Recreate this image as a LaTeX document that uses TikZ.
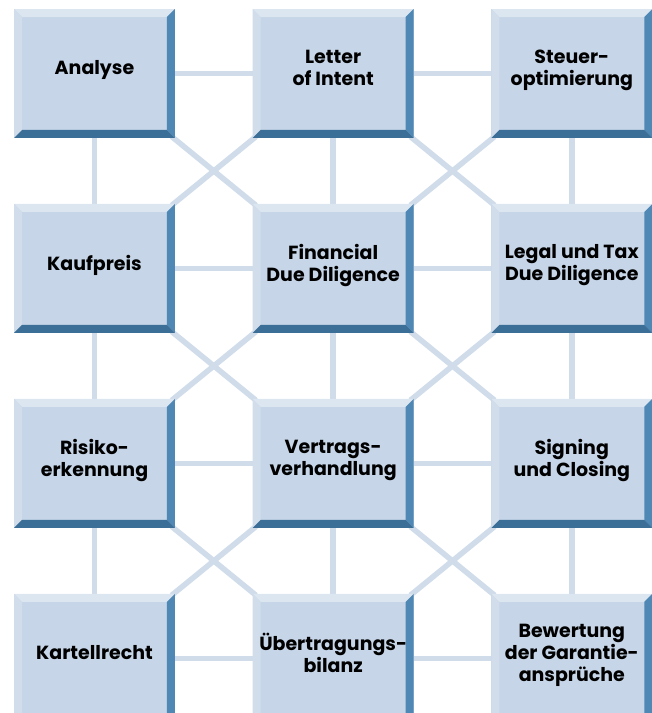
\documentclass[tikz,border=0pt]{standalone}
\usepackage{fontspec}
\setmainfont{Poppins}
\usetikzlibrary{positioning}
\usetikzlibrary{backgrounds}
\definecolor{boxface}{HTML}{C6D5E7}
\definecolor{bevtop}{HTML}{DCE6F1}
\definecolor{bevleft}{HTML}{D2DDEB}
\definecolor{bevright}{HTML}{4F88B4}
\definecolor{bevbottom}{HTML}{3C6F98}
\definecolor{linkcol}{HTML}{D0DCEA}
\def\bevw{0.16cm}
\def\ppb{path picture bounding box}
\tikzset{
  node distance = 1.306cm and 1.54cm,
  box/.style = {
    rectangle, fill = boxface, inner sep = 0pt,
    minimum width = 3.22cm, minimum height = 2.58cm,
    align = center, text depth = 0.23cm,
    font = \fontsize{10.8}{12.5}\selectfont\bfseries,
    path picture = {
      \fill [bevtop] (\ppb.north west) -- (\ppb.north east)
        -- ([xshift=-\bevw, yshift=-\bevw]\ppb.north east)
        -- ([xshift=\bevw, yshift=-\bevw]\ppb.north west) -- cycle;
      \fill [bevleft] (\ppb.north west) -- (\ppb.south west)
        -- ([xshift=\bevw, yshift=\bevw]\ppb.south west)
        -- ([xshift=\bevw, yshift=-\bevw]\ppb.north west) -- cycle;
      \fill [bevright] (\ppb.north east) -- (\ppb.south east)
        -- ([xshift=-\bevw, yshift=\bevw]\ppb.south east)
        -- ([xshift=-\bevw, yshift=-\bevw]\ppb.north east) -- cycle;
      \fill [bevbottom] (\ppb.south west) -- (\ppb.south east)
        -- ([xshift=-\bevw, yshift=\bevw]\ppb.south east)
        -- ([xshift=\bevw, yshift=\bevw]\ppb.south west) -- cycle;
    },
  },
  link/.style = {draw = linkcol, line width = 0.11cm, line cap = rect},
}

\begin{document}
\begin{tikzpicture}[x = 0.02cm, y = -0.02cm]
    \useasboundingbox (0,0) rectangle (652,713);
    \node [box] (analyse) at (94.5,73.5) {Analyse};
    \node [box, right = of analyse] (loi) {Letter\\of Intent};
    \node [box, right = of loi] (steuer) {Steuer-\\optimierung};
    \node [box, below = of analyse] (kaufpreis) {Kaufpreis};
    \node [box, right = of kaufpreis] (fdd) {Financial\\Due Diligence};
    \node [box, right = of fdd] (ltdd) {Legal und Tax\\Due Diligence};
    \node [box, below = of kaufpreis] (risiko) {Risiko-\\erkennung};
    \node [box, right = of risiko] (vertrag) {Vertrags-\\verhandlung};
    \node [box, right = of vertrag] (signing) {Signing\\und Closing};
    \node [box, below = of risiko] (kartell) {Kartellrecht};
    \node [box, right = of kartell] (uebertrag) {Übertragungs-\\bilanz};
    \node [box, right = of uebertrag] (bewertung) {Bewertung\\der Garantie-\\ansprüche};
    \begin{scope}[on background layer]
      % rows
      \draw [link] (analyse) -- (loi);
      \draw [link] (loi) -- (steuer);
      \draw [link] (kaufpreis) -- (fdd);
      \draw [link] (fdd) -- (ltdd);
      \draw [link] (risiko) -- (vertrag);
      \draw [link] (vertrag) -- (signing);
      \draw [link] (kartell) -- (uebertrag);
      \draw [link] (uebertrag) -- (bewertung);
      % columns
      \draw [link] (analyse) -- (kaufpreis);
      \draw [link] (kaufpreis) -- (risiko);
      \draw [link] (risiko) -- (kartell);
      \draw [link] (loi) -- (fdd);
      \draw [link] (fdd) -- (vertrag);
      \draw [link] (vertrag) -- (uebertrag);
      \draw [link] (steuer) -- (ltdd);
      \draw [link] (ltdd) -- (signing);
      \draw [link] (signing) -- (bewertung);
      % crossings
      \draw [link] (analyse) -- (fdd);
      \draw [link] (loi) -- (kaufpreis);
      \draw [link] (loi) -- (ltdd);
      \draw [link] (steuer) -- (fdd);
      \draw [link] (kaufpreis) -- (vertrag);
      \draw [link] (fdd) -- (risiko);
      \draw [link] (fdd) -- (signing);
      \draw [link] (ltdd) -- (vertrag);
      \draw [link] (risiko) -- (uebertrag);
      \draw [link] (vertrag) -- (kartell);
      \draw [link] (vertrag) -- (bewertung);
      \draw [link] (signing) -- (uebertrag);
    \end{scope}
\end{tikzpicture}
\end{document}
